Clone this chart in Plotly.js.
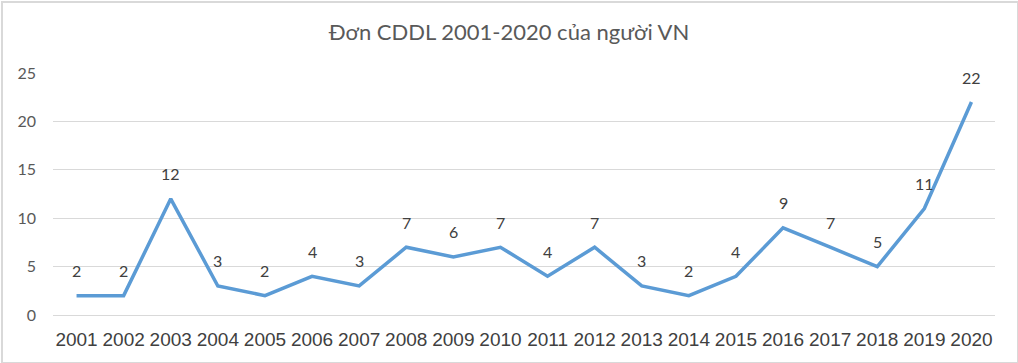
<!DOCTYPE html>
<html>
<head>
<meta charset="utf-8">
<script src="https://cdn.plot.ly/plotly-3.0.1.min.js"></script>
<style>
html,body{margin:0;padding:0;background:#fff;}
#wrap{position:absolute;left:1px;top:1px;width:1014px;height:359px;border:2px solid #d9d9d9;box-sizing:content-box;}
#chart{position:absolute;left:-3px;top:-3px;width:1018px;height:363px;}
</style>
</head>
<body>
<div id="wrap"><div id="chart"></div></div>
<script>
const years = ['2001','2002','2003','2004','2005','2006','2007','2008','2009','2010','2011','2012','2013','2014','2015','2016','2017','2018','2019','2020'];
const values = [2,2,12,3,2,4,3,7,6,7,4,7,3,2,4,9,7,5,11,22];
const chartTitle = 'Đơn CDDL 2001-2020 của người VN';

const trace = {
  x: years, y: values, type: 'scatter', mode: 'lines',
  line: {color: '#5b9bd5', width: 3.5},
  hoverinfo: 'none'
};
const annotations = years.map((yr, i) => ({
  x: i, y: values[i], xref: 'x', yref: 'y',
  text: String(values[i]), showarrow: false, yshift: 25,
  font: {family: 'Lato, "Open Sans", sans-serif', size: 16, color: '#404040'}
}));
const layout = {
  width: 1018, height: 363,
  margin: {l: 53, r: 23, t: 73, b: 48},
  paper_bgcolor: 'rgba(0,0,0,0)', plot_bgcolor: '#fff',
  showlegend: false,
  title: {text: chartTitle, x: 0.5, xref: 'container', xanchor: 'center', y: 0.91, yref: 'container', yanchor: 'middle',
    font: {family: 'Lato, "Open Sans", sans-serif', size: 22, color: '#595959'}},
  xaxis: {type: 'category', range: [-0.5, years.length - 0.5], autorange: false,
    showgrid: false, zeroline: false, showline: false, ticks: '',
    tickfont: {family: '"Liberation Sans", Arial, sans-serif', size: 19, color: '#404040'},
    ticklabelstandoff: 11},
  yaxis: {range: [0, 25], autorange: false, dtick: 5, tick0: 0, showgrid: true, gridcolor: '#d9d9d9', gridwidth: 1,
    zeroline: true, zerolinecolor: '#d9d9d9', zerolinewidth: 1, showline: false, ticks: '',
    tickfont: {family: 'Lato, "Open Sans", sans-serif', size: 16, color: '#595959'},
    ticklabelstandoff: 16},
  annotations: annotations
};
Plotly.newPlot('chart', [trace], layout, {staticPlot: true, displayModeBar: false});
</script>
</body>
</html>
